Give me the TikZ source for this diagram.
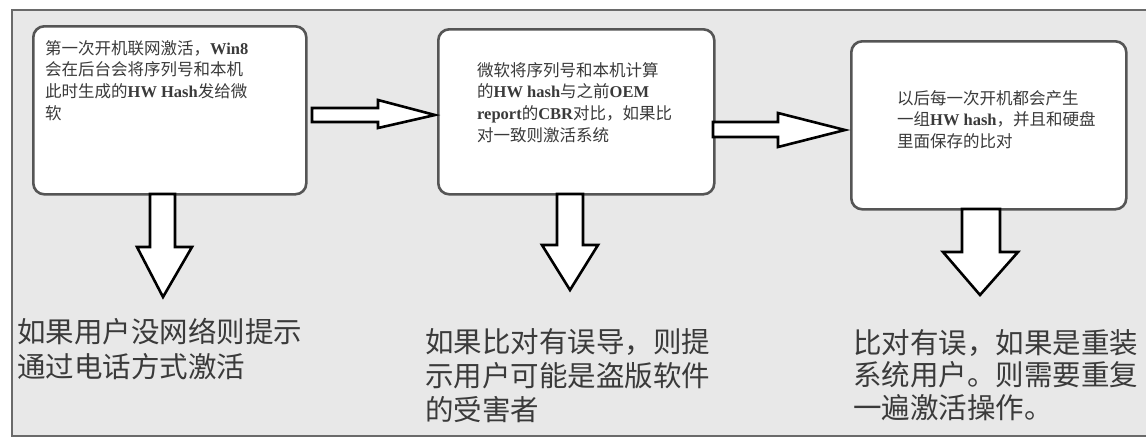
\documentclass[tikz,border=0pt]{standalone}
\usepackage{fontspec}
\setmainfont{Noto Sans CJK SC}
\newfontfamily\latserif{Liberation Serif}
\newcommand\lt[1]{{\latserif\bfseries #1}}
\definecolor{bggray}{HTML}{E8E8E8}
\definecolor{framegray}{HTML}{6A6A6A}
\definecolor{boxgray}{HTML}{555555}
\definecolor{txtgray}{HTML}{3A3A3A}
\begin{document}
\begin{tikzpicture}[x=1pt,y=-1pt,
  frame/.style={fill=bggray,draw=framegray,line width=1.6pt},
  box/.style={draw=boxgray,fill=white,line width=2.6pt,rounded corners=11pt,inner sep=0pt,anchor=north west},
  boxtext/.style={inner sep=0pt,anchor=north west,align=left,text=txtgray,font=\fontsize{16.5}{21.7}\selectfont},
  bottomtext/.style={inner sep=0pt,anchor=north west,align=left,text=txtgray,font=\fontsize{28.5}{35}\selectfont},
  blockarrow/.style={draw=black,fill=white,line width=2.6pt,line join=miter}]
\useasboundingbox (0,0) rectangle (1146,437);
\fill[white] (0,0) rectangle (1146,437);
\draw[frame] (12,10) rectangle (1160,436);
% boxes
\node[box,minimum width=273pt,minimum height=168pt] (b1) at (32,25) {};
\node[box,minimum width=276pt,minimum height=165pt] (b2) at (437,28) {};
\node[box,minimum width=275pt,minimum height=168pt] (b3) at (850,40) {};
% box texts
\node[boxtext] (t1) at (45,40) {第一次开机联网激活，\lt{Win8}\\会在后台会将序列号和本机\\此时生成的\lt{HW Hash}发给微\\软};
\node[boxtext] (t2) at (477,62) {微软将序列号和本机计算\\的\lt{HW hash}与之前\lt{OEM}\\\lt{report}的\lt{CBR}对比，如果比\\对一致则激活系统};
\node[boxtext] (t3) at (897,90) {以后每一次开机都会产生\\一组\lt{HW hash}，并且和硬盘\\里面保存的比对};
% right block arrows
\draw[blockarrow] (312,108) -- (378,108) -- (378,100) -- (435,115) -- (378,128) -- (378,122) -- (312,122) -- cycle;
\draw[blockarrow] (713,122) -- (778,122) -- (778,113) -- (845,130) -- (778,147) -- (778,137) -- (713,137) -- cycle;
% down block arrows
\draw[blockarrow] (150,194) -- (150,247) -- (137,247) -- (163,297) -- (192,247) -- (175,247) -- (175,194) -- cycle;
\draw[blockarrow] (557,194) -- (557,245) -- (542,245) -- (570,290) -- (598,245) -- (583,245) -- (583,194) -- cycle;
\draw[blockarrow] (962,209) -- (962,252) -- (943,252) -- (980,295) -- (1018,252) -- (1000,252) -- (1000,209) -- cycle;
% bottom texts
\node[bottomtext] (s1) at (17,318) {如果用户没网络则提示\\通过电话方式激活};
\node[bottomtext,font=\fontsize{28.5}{34}\selectfont] (s2) at (425,328) {如果比对有误导，则提\\示用户可能是盗版软件\\的受害者};
\node[bottomtext,font=\fontsize{28.5}{32.5}\selectfont] (s3) at (853,329) {比对有误，如果是重装\\系统用户。则需要重复\\一遍激活操作。};
\end{tikzpicture}
\end{document}
